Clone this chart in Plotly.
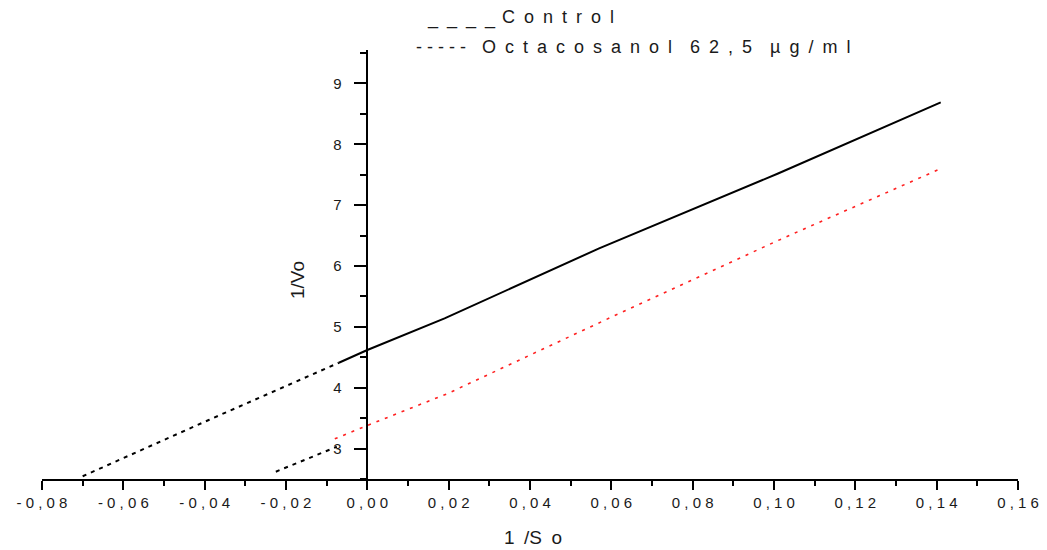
import plotly.graph_objects as go

# ---- data ----
control_x = [-0.007, 0.0, 0.019, 0.057, 0.101, 0.141]
control_y = [4.41, 4.62, 5.14, 6.29, 7.52, 8.69]

control_ext_x = [-0.070, -0.039, -0.007]
control_ext_y = [2.545, 3.47, 4.41]

octa_x = [-0.008, 0.0, 0.0196, 0.060, 0.101, 0.141]
octa_y = [3.16, 3.38, 3.90, 5.16, 6.42, 7.60]

octa_ext_x = [-0.0225, -0.0075]
octa_ext_y = [2.62, 3.03]

x_tickvals = [-0.08, -0.06, -0.04, -0.02, 0.0, 0.02, 0.04, 0.06, 0.08, 0.10, 0.12, 0.14, 0.16]
x_ticklabels = ["-0,08", "-0,06", "-0,04", "-0,02", "0,00", "0,02", "0,04", "0,06",
                "0,08", "0,10", "0,12", "0,14", "0,16"]
y_tickvals = [3, 4, 5, 6, 7, 8, 9]
y_ticklabels = ["3", "4", "5", "6", "7", "8", "9"]

legend_control = "Control"
legend_octa = "Octacosanol 62,5 µg/ml"
x_title = "1/So"
y_title = "1/Vo"

FONT = "Liberation Sans, Arial, sans-serif"
EN = "\u2002"
BODY = 8  # default page margin around the figure div


def spaced(s, sep=" "):
    return sep.join(list(s))


fig = go.Figure()
fig.add_trace(go.Scatter(x=control_ext_x, y=control_ext_y, mode="lines",
                         line=dict(color="black", width=2, dash="4px,5px"),
                         showlegend=False, hoverinfo="skip"))
fig.add_trace(go.Scatter(x=octa_ext_x, y=octa_ext_y, mode="lines",
                         line=dict(color="black", width=2, dash="4px,5px"),
                         showlegend=False, hoverinfo="skip"))
fig.add_trace(go.Scatter(x=control_x, y=control_y, mode="lines",
                         line=dict(color="black", width=2),
                         name=legend_control, showlegend=False))
fig.add_trace(go.Scatter(x=octa_x, y=octa_y, mode="lines",
                         line=dict(color="#ff2020", width=1.6, dash="3px,6px"),
                         name=legend_octa, showlegend=False))

fig.update_layout(
    width=1047 - BODY, height=550 - BODY,
    margin=dict(l=42 - BODY, r=29, t=50 - BODY, b=71, autoexpand=False),
    paper_bgcolor="white", plot_bgcolor="white",
    font=dict(family=FONT, color="#1a1a1a", size=15),
    xaxis=dict(
        range=[-0.08, 0.16], domain=[0, 1], automargin=False,
        showline=True, linecolor="black", linewidth=1.5,
        ticks="outside", ticklen=9, tickwidth=1.5, tickcolor="black",
        tickmode="array", tickvals=x_tickvals,
        ticktext=[spaced(t) for t in x_ticklabels],
        tickfont=dict(size=15, family=FONT, color="#1a1a1a"),
        minor=dict(dtick=0.01, tick0=0, ticks="outside", ticklen=5,
                   tickwidth=1.5, tickcolor="black", showgrid=False),
        showgrid=False, zeroline=False,
    ),
    yaxis=dict(
        range=[2.5, 9.55], anchor="free", position=1 / 3, automargin=False,
        showline=True, linecolor="black", linewidth=1.5,
        ticks="outside", ticklen=13, tickwidth=1.5, tickcolor="black",
        tickmode="array", tickvals=y_tickvals, ticktext=y_ticklabels,
        tickfont=dict(size=15, family=FONT, color="#1a1a1a"),
        ticklabelstandoff=9,
        minor=dict(dtick=0.5, tick0=0, ticks="outside", ticklen=7,
                   tickwidth=1.5, tickcolor="black", showgrid=False),
        showgrid=False, zeroline=False,
    ),
)


def px_to_paper_x(px):
    return (px - 42) / 976.0


def px_to_paper_y(py):
    return (479 - py) / 429.0


annots = [
    # legend rows (text-drawn samples like the original)
    dict(text=EN.join(["_"] * 4), x=px_to_paper_x(425), y=px_to_paper_y(19),
         xanchor="left", yanchor="middle", font=dict(size=18)),
    dict(text=spaced(legend_control, EN), x=px_to_paper_x(500), y=px_to_paper_y(17),
         xanchor="left", yanchor="middle", font=dict(size=18)),
    dict(text=" ".join(["-"] * 5), x=px_to_paper_x(414), y=px_to_paper_y(47),
         xanchor="left", yanchor="middle", font=dict(size=18)),
    dict(text=spaced(legend_octa, EN).replace(EN + " " + EN, EN + EN), x=px_to_paper_x(480), y=px_to_paper_y(47),
         xanchor="left", yanchor="middle", font=dict(size=18)),
    # axis titles
    dict(text=spaced(x_title, EN).replace("/" + EN + "S", "/S"), x=px_to_paper_x(533), y=px_to_paper_y(537),
         xanchor="center", yanchor="middle", font=dict(size=19)),
    dict(text=y_title, x=px_to_paper_x(297), y=px_to_paper_y(280), textangle=-90,
         xanchor="center", yanchor="middle", font=dict(size=19)),
]
for a in annots:
    a.update(xref="paper", yref="paper", showarrow=False)
    a["font"].update(family=FONT, color="#1a1a1a")
    fig.add_annotation(**a)

fig.write_html("out.html")
